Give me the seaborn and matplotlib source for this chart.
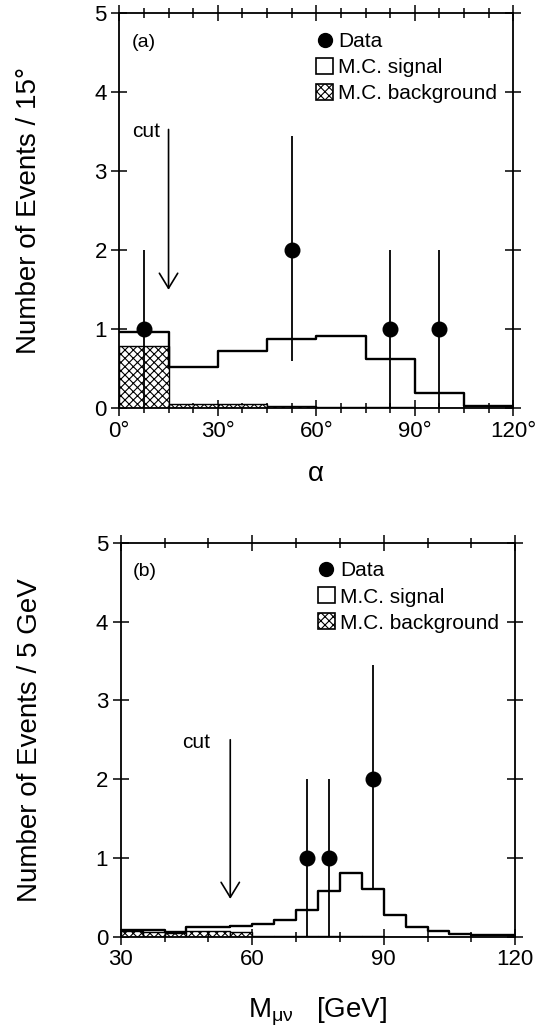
import numpy as np
import matplotlib
matplotlib.use("Agg")
import matplotlib.pyplot as plt
from matplotlib.ticker import MultipleLocator
from matplotlib.lines import Line2D
from matplotlib.patches import Patch
import seaborn as sns

# panel (a): opening angle alpha, 15 degree bins
alpha_edges = [0, 15, 30, 45, 60, 75, 90, 105, 120]
alpha_signal = [0.97, 0.52, 0.73, 0.88, 0.91, 0.62, 0.20, 0.03]
alpha_bkg = [0.79, 0.06, 0.05, 0.03, 0.02, 0.02, 0.01, 0.01]
alpha_data_x = [7.5, 52.5, 82.5, 97.5]
alpha_data_y = [1, 2, 1, 1]
alpha_err_lo = [1.0, 1.4, 1.0, 1.0]
alpha_err_hi = [1.0, 1.45, 1.0, 1.0]
alpha_cut = 15

# panel (b): M_mu-nu, 5 GeV bins
mass_edges = list(range(30, 121, 5))
mass_signal = [0.08, 0.08, 0.06, 0.12, 0.12, 0.14, 0.16, 0.21, 0.34,
               0.58, 0.81, 0.61, 0.28, 0.12, 0.07, 0.03, 0.02, 0.02]
mass_bkg = [0.07, 0.06, 0.05, 0.07, 0.07, 0.06, 0.01, 0.01, 0.01,
            0.005, 0.005, 0.005, 0.0, 0.0, 0.0, 0.0, 0.0, 0.0]
mass_data_x = [72.5, 77.5, 87.5]
mass_data_y = [1, 1, 2]
mass_err_lo = [1.0, 1.0, 1.4]
mass_err_hi = [1.0, 1.0, 1.45]
mass_cut = 55

sns.set_theme(style="ticks")
plt.rcParams['font.family'] = ['Liberation Sans', 'DejaVu Sans']
plt.rcParams['mathtext.fontset'] = 'custom'
plt.rcParams['mathtext.rm'] = 'Liberation Sans'
plt.rcParams['hatch.linewidth'] = 0.8
plt.rcParams['hatch.color'] = 'black'
for k in ['text.color', 'axes.labelcolor', 'xtick.color', 'ytick.color',
          'axes.edgecolor']:
    plt.rcParams[k] = 'black'

fig = plt.figure(figsize=(5.51, 10.26), dpi=100)
ax1 = fig.add_axes([0.2165, 0.602, 0.715, 0.385])
ax2 = fig.add_axes([0.219, 0.087, 0.716, 0.384])


def centers(edges):
    e = np.asarray(edges, dtype=float)
    return (e[:-1] + e[1:]) / 2


def panel(ax, edges, sig, bkg, dx, dy, elo, ehi, cut, cut_top, cut_bot,
          cut_txt_x, cut_txt_y, tag, tag_x, xlim, major, minor):
    c = centers(edges)
    sns.histplot(x=c, weights=bkg, bins=edges, element="bars", fill=True,
                 color="white", edgecolor="black", hatch="xxxx", linewidth=1.0,
                 ax=ax)
    sns.histplot(x=c, weights=sig, bins=edges, element="step", fill=False,
                 color="black", linewidth=1.7, ax=ax)
    ax.errorbar(dx, dy, yerr=[elo, ehi], fmt="o", color="black",
                markersize=10.5, elinewidth=1.3, capsize=0, zorder=5)
    ax.annotate("", xy=(cut, cut_bot), xytext=(cut, cut_top),
                arrowprops=dict(arrowstyle="->,head_length=0.9,head_width=0.55",
                                lw=1.2, color="black", shrinkA=0, shrinkB=0))
    ax.text(cut_txt_x, cut_txt_y, "cut", ha="right", va="baseline", fontsize=15)
    ax.text(tag_x, 4.58, tag, ha="left", va="baseline", fontsize=14)

    ax.set_xlim(*xlim)
    ax.set_ylim(0, 5)
    ax.xaxis.set_major_locator(MultipleLocator(major))
    ax.xaxis.set_minor_locator(MultipleLocator(minor))
    ax.yaxis.set_major_locator(MultipleLocator(1))
    ax.tick_params(which="both", direction="inout", top=True, right=True,
                   labelsize=16, width=1.1, color="black", pad=3)
    ax.tick_params(which="major", length=12)
    ax.tick_params(which="minor", length=7)
    for s in ax.spines.values():
        s.set_linewidth(1.3)
        s.set_color("black")

    handles = [Line2D([], [], marker="o", color="black", linestyle="none",
                      markersize=10),
               Patch(facecolor="white", edgecolor="black", linewidth=1.2),
               Patch(facecolor="white", edgecolor="black", hatch="xxxx",
                     linewidth=1.2)]
    ax.legend(handles, ["Data", "M.C. signal", "M.C. background"],
              loc="upper left", bbox_to_anchor=(0.5, 0.953), frameon=False,
              fontsize=15, borderpad=0, borderaxespad=0, handlelength=0.8,
              handleheight=0.8, handletextpad=0.25, labelspacing=0.33)


panel(ax1, alpha_edges, alpha_signal, alpha_bkg, alpha_data_x, alpha_data_y,
      alpha_err_lo, alpha_err_hi, alpha_cut, 3.53, 1.5, 12.4, 3.43,
      "(a)", 3.8, (0, 120), 30, 7.5)
ax1.set_xticklabels([f"{int(v)}°" for v in ax1.get_xticks()])
ax1.set_xlabel("α", fontsize=20, labelpad=14)
ax1.set_ylabel("Number of Events / 15°", fontsize=20, labelpad=38)

panel(ax2, mass_edges, mass_signal, mass_bkg, mass_data_x, mass_data_y,
      mass_err_lo, mass_err_hi, mass_cut, 2.5, 0.48, 50.4, 2.39,
      "(b)", 32.8, (30, 120), 30, 10)
ax2.set_xlabel(r"M$_{\mathregular{μν}}$   [GeV]", fontsize=20, labelpad=18)
ax2.set_ylabel("Number of Events / 5 GeV", fontsize=20, labelpad=38)

fig.savefig("out.png", dpi=100)
